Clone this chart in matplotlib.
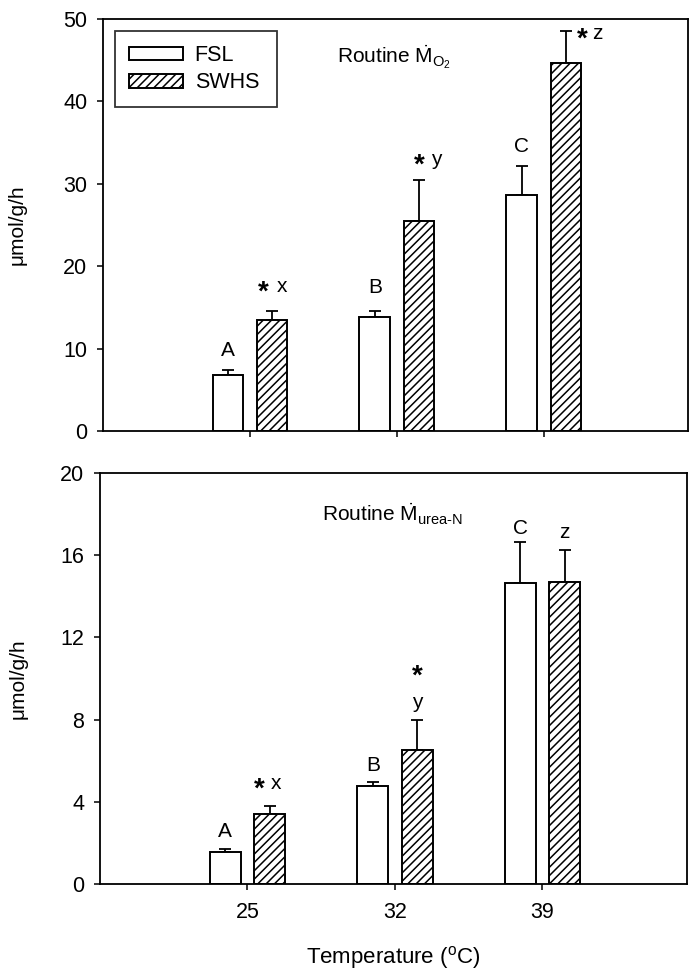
import numpy as np
import matplotlib
matplotlib.use('Agg')
import matplotlib.pyplot as plt

plt.rcParams['font.family'] = ['Liberation Sans', 'DejaVu Sans']
plt.rcParams['mathtext.fontset'] = 'custom'
plt.rcParams['mathtext.rm'] = 'Liberation Sans'
plt.rcParams['mathtext.it'] = 'Liberation Sans:italic'
plt.rcParams['hatch.linewidth'] = 1.1

temps = ['25', '32', '39']
groups = ['FSL', 'SWHS']

# Routine MO2 (umol/g/h)
mo2_fsl = [6.8, 13.8, 28.6]
mo2_fsl_err = [0.55, 0.8, 3.5]
mo2_swhs = [13.5, 25.5, 44.7]
mo2_swhs_err = [1.1, 5.0, 3.9]

# Routine Murea-N (umol/g/h)
urea_fsl = [1.56, 4.77, 14.63]
urea_fsl_err = [0.12, 0.21, 2.0]
urea_swhs = [3.42, 6.52, 14.71]
urea_swhs_err = [0.38, 1.46, 1.55]

# significance letters
mo2_fsl_let = ['A', 'B', 'C']
mo2_fsl_let_y = [9.8, 17.4, 34.5]
mo2_swhs_let = ['x', 'y', 'z']
mo2_swhs_let_y = [17.5, 32.9, 48.2]
mo2_swhs_let_dx = [0.07, 0.12, 0.21]
mo2_star_dx = [-0.06, 0.0, 0.11]
mo2_star_y = [17.5, 32.9, 48.2]

urea_fsl_let = ['A', 'B', 'C']
urea_fsl_let_y = [2.54, 5.79, 17.3]
urea_swhs_let = ['x', 'y', 'z']
urea_swhs_let_y = [4.87, 8.82, 17.1]
urea_swhs_let_dx = [0.045, 0.0, 0.0]
urea_star_dx = [-0.07, 0.0, None]
urea_star_y = [4.87, 10.35, None]

x = np.arange(1, len(temps) + 1)
w = 0.21
off = 0.15

fig = plt.figure(figsize=(7, 9.75), dpi=100)
ax1 = fig.add_axes([103 / 700, 1 - 431 / 975, 585 / 700, 412 / 975])
ax2 = fig.add_axes([100 / 700, 1 - 884 / 975, 587 / 700, 411 / 975])


def draw_panel(ax, fsl, fsl_err, swhs, swhs_err, ymax, ystep):
    ax.bar(x - off, fsl, w, color='white', edgecolor='black', linewidth=1.4, label=groups[0], zorder=2)
    ax.bar(x + off, swhs, w, color='white', edgecolor='black', linewidth=1.4, hatch='////', label=groups[1], zorder=2)
    ax.errorbar(x - off, fsl, yerr=[np.zeros(3), fsl_err], fmt='none', ecolor='black',
                elinewidth=1.3, capsize=4.5, capthick=1.3, zorder=1)
    ax.errorbar(x + off, swhs, yerr=[np.zeros(3), swhs_err], fmt='none', ecolor='black',
                elinewidth=1.3, capsize=4.5, capthick=1.3, zorder=1)
    ax.set_xlim(0, 3.98)
    ax.set_ylim(0, ymax)
    ax.set_yticks(np.arange(0, ymax + 0.1, ystep))
    ax.set_xticks(x)
    ax.tick_params(axis='both', direction='out', length=4.3, width=1.1, labelsize=15.5, colors='black')
    ax.tick_params(axis='y', pad=7)
    ax.tick_params(axis='x', pad=9)
    for s in ax.spines.values():
        s.set_linewidth(1.3)
    ax.set_ylabel('μmol/g/h', fontsize=15)


def draw_letters(ax, fsl_let, fsl_y, swhs_let, swhs_y, swhs_dx, star_dx, star_y):
    for i in range(3):
        ax.text(x[i] - off, fsl_y[i], fsl_let[i], ha='center', va='center', fontsize=15)
        ax.text(x[i] + off + swhs_dx[i], swhs_y[i], swhs_let[i], ha='center', va='center', fontsize=15)
        if star_dx[i] is not None:
            ax.annotate('*', (x[i] + off + star_dx[i], star_y[i]), xytext=(0, -4),
                        textcoords='offset points', ha='center', va='center',
                        fontsize=20, fontweight='bold')


draw_panel(ax1, mo2_fsl, mo2_fsl_err, mo2_swhs, mo2_swhs_err, 50, 10)
ax1.set_xticklabels([])
draw_letters(ax1, mo2_fsl_let, mo2_fsl_let_y, mo2_swhs_let, mo2_swhs_let_y,
             mo2_swhs_let_dx, mo2_star_dx, mo2_star_y)
ax1.text(0.40, 0.8925, r'Routine $\dot{\mathrm{M}}_{\mathrm{O}_{2}}$', transform=ax1.transAxes,
         ha='left', va='baseline', fontsize=15)
ax1.yaxis.set_label_coords(-0.13, 0.5)
leg = ax1.legend(loc='upper left', bbox_to_anchor=(12 / 585, 0, 162 / 585, 0.971), mode='expand',
                 borderaxespad=0, fontsize=15.5, frameon=True, fancybox=False, edgecolor='black',
                 handlelength=2.5, handleheight=0.6, handletextpad=0.55, labelspacing=0.3,
                 borderpad=0.65)
leg.get_frame().set_linewidth(1.3)

draw_panel(ax2, urea_fsl, urea_fsl_err, urea_swhs, urea_swhs_err, 20, 4)
ax2.set_xticklabels(temps)
draw_letters(ax2, urea_fsl_let, urea_fsl_let_y, urea_swhs_let, urea_swhs_let_y,
             urea_swhs_let_dx, urea_star_dx, urea_star_y)
ax2.text(0.378, 0.8815, r'Routine $\dot{\mathrm{M}}_{\text{urea-N}}$', transform=ax2.transAxes,
         ha='left', va='baseline', fontsize=15)
ax2.yaxis.set_label_coords(-0.124, 0.5)
ax2.set_xlabel(r'Temperature ($^{\mathrm{o}}$C)', fontsize=16)
ax2.xaxis.set_label_coords(0.5, -0.146)

fig.savefig('out.png', dpi=100)
